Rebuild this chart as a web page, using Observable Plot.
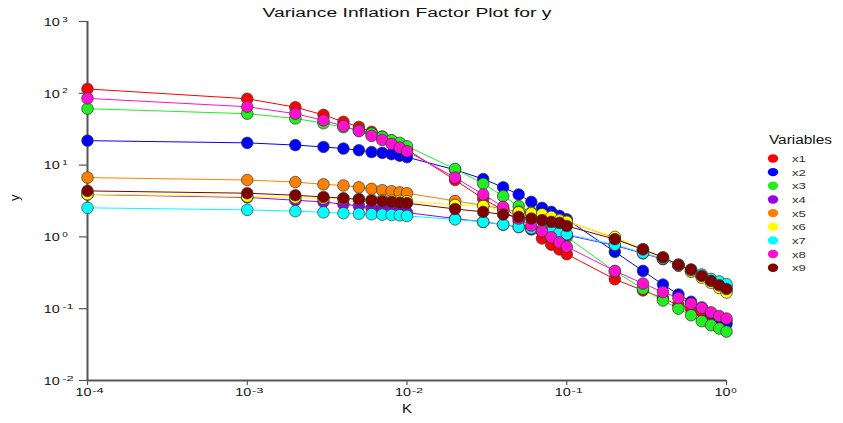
<!DOCTYPE html>
<html>
<head>
<meta charset="utf-8">
<script src="https://cdn.jsdelivr.net/npm/d3@7"></script>
<script src="https://cdn.jsdelivr.net/npm/@observablehq/plot@0.6"></script>
<style>
  html, body { margin: 0; padding: 0; background: #fff; }
  #wrap { position: relative; width: 843px; height: 423px; font-family: "Liberation Sans", Arial, sans-serif; }
  #legend { position: absolute; left: 0; top: 0; }
</style>
</head>
<body>
<div id="wrap"></div>
<script>
const K = [0.0001,0.001,0.002,0.003,0.004,0.005,0.006,0.007,0.008,0.009,0.01,0.02,0.03,0.04,0.05,0.06,0.07,0.08,0.09,0.1,0.2,0.3,0.4,0.5,0.6,0.7,0.8,0.9,1];
const x1 = [115,84,64,50,40,34,29,25,22,19,16.5,6.2,3.4,2.35,1.65,1.27,0.95,0.78,0.67,0.575,0.257,0.18,0.14,0.112,0.1,0.09,0.08,0.072,0.066];
const x2 = [21.9,20.4,19,17.9,17,16.1,15.2,14.8,14.2,13.5,12.9,8.6,6.4,4.9,3.9,3.07,2.54,2.23,1.96,1.76,0.62,0.336,0.217,0.158,0.125,0.104,0.086,0.073,0.061];
const x3 = [61,52,44.6,38.3,33.7,30.6,27.5,24.7,22.2,20.4,18.3,8.85,5.5,3.7,2.68,2.2,1.8,1.5,1.2,1.0,0.33,0.19,0.13,0.1,0.081,0.067,0.059,0.053,0.048];
const x4 = [3.9,3.55,3.24,3.07,2.85,2.7,2.53,2.45,2.38,2.28,2.18,1.8,1.62,1.48,1.37,1.3,1.2,1.13,1.1,1.06,0.76,0.59,0.49,0.4,0.34,0.29,0.25,0.225,0.2];
const x5 = [6.7,6.2,5.8,5.4,5.2,4.9,4.66,4.47,4.33,4.17,4.06,3.17,2.75,2.45,2.25,2.1,1.97,1.85,1.75,1.65,0.97,0.66,0.51,0.40,0.33,0.28,0.24,0.21,0.18];
const x6 = [3.93,3.65,3.52,3.44,3.38,3.33,3.28,3.24,3.2,3.17,3.14,2.78,2.7,2.28,2.2,2.13,2.07,1.9,1.7,1.62,1.0,0.67,0.5,0.4,0.33,0.27,0.23,0.195,0.168];
const x7 = [2.54,2.38,2.28,2.2,2.14,2.1,2.07,2.04,2.02,2.0,1.96,1.75,1.62,1.49,1.38,1.32,1.25,1.17,1.14,1.09,0.78,0.6,0.5,0.41,0.35,0.3,0.26,0.24,0.22];
const x8 = [85,65,52,42,35,29.7,25.5,22.4,19.7,17.5,15.6,6.7,3.9,2.62,1.8,1.44,1.2,0.99,0.84,0.73,0.336,0.224,0.171,0.141,0.118,0.103,0.089,0.079,0.073];
const x9 = [4.37,4.06,3.8,3.6,3.46,3.35,3.2,3.14,3.07,3.0,2.95,2.45,2.23,2.05,1.9,1.8,1.71,1.62,1.57,1.42,0.93,0.67,0.52,0.41,0.35,0.286,0.244,0.212,0.188];

const seriesNames = ["x1","x2","x3","x4","x5","x6","x7","x8","x9"];
const seriesValues = [x1,x2,x3,x4,x5,x6,x7,x8,x9];
const seriesColors = ["#FF0000","#0000FF","#22EE22","#9900EE","#FF8000","#FFFF00","#00FFFF","#FF10D0","#800000"];
const xTicks = [1e-4,1e-3,1e-2,1e-1,1];
const yTicks = [1e-2,1e-1,1,1e1,1e2,1e3];
const titleText = "Variance Inflation Factor Plot for y";
const xLabel = "K";
const yLabel = "y";
const legendTitle = "Variables";

const expOf = d => String(Math.round(Math.log10(d)));

const rows = [];
seriesNames.forEach((s, i) => K.forEach((k, j) => rows.push({K: k, v: seriesValues[i][j], s})));

const axisColor = "#555";
const chart = Plot.plot({
  width: 843,
  height: 423,
  marginLeft: 87,
  marginRight: 117,
  marginTop: 21,
  marginBottom: 43,
  style: {fontFamily: "'Liberation Sans', Arial, sans-serif", background: "#fff", overflow: "visible"},
  x: {type: "log", domain: [1e-4, 1], label: null},
  y: {type: "log", domain: [1e-2, 1e3], label: null},
  color: {domain: seriesNames, range: seriesColors},
  marks: [
    Plot.axisX({ticks: xTicks, tickFormat: () => "", tickSize: 5, stroke: axisColor, strokeWidth: 1.2, label: null}),
    Plot.axisY({ticks: yTicks, tickFormat: () => "", tickSize: 8, stroke: axisColor, strokeWidth: 1.2, label: null}),
    // power-of-ten tick labels: base and raised exponent
    Plot.text(xTicks, {x: d => d, frameAnchor: "bottom", text: () => "10", textAnchor: "start", dx: -12, dy: 15, fontSize: 10, fill: "#111"}),
    Plot.text(xTicks, {x: d => d, frameAnchor: "bottom", text: expOf, textAnchor: "start", dx: 4.7, dy: 12.8, fontSize: 6.5, fill: "#111"}),
    Plot.text(yTicks, {y: d => d, frameAnchor: "left", text: () => "10", textAnchor: "start", dx: -43.7, dy: 1, fontSize: 10, fill: "#111"}),
    Plot.text(yTicks, {y: d => d, frameAnchor: "left", text: expOf, textAnchor: "start", dx: -25.3, dy: -2, fontSize: 6.5, fill: "#111"}),
    Plot.ruleX([1e-4], {stroke: axisColor, strokeWidth: 2}),
    Plot.ruleY([1e-2], {stroke: axisColor, strokeWidth: 2}),
    Plot.line(rows, {x: "K", y: "v", z: "s", stroke: "s", strokeWidth: 1}),
    Plot.dot(rows, {x: "K", y: "v", fill: "s", stroke: "#333", strokeWidth: 0.7, r: 5.8}),
    Plot.text([titleText], {frameAnchor: "top", dy: -13, fontSize: 12, fill: "#111"}),
    Plot.text([xLabel], {frameAnchor: "bottom", dy: 32, fontSize: 12.5, fill: "#111"}),
    Plot.text([yLabel], {frameAnchor: "left", dx: -73, rotate: -90, fontSize: 13, fill: "#111"})
  ]
});
document.getElementById("wrap").appendChild(chart);

// Widen lettering like the reference (stretched glyphs)
chart.querySelectorAll("text").forEach(el => {
  const s = el.textContent;
  let len = null;
  if (s === titleText) len = 289;
  else if (s === "10") len = 16;
  else if (/^-\d$/.test(s)) len = 11.5;
  else if (/^\d$/.test(s)) len = 5.5;
  else if (s === xLabel) len = 10;
  if (len != null) {
    el.setAttribute("textLength", len);
    el.setAttribute("lengthAdjust", "spacingAndGlyphs");
  }
});

// Legend
const leg = d3.select("#wrap").append("svg")
  .attr("id", "legend").attr("width", 843).attr("height", 423)
  .style("font-family", "'Liberation Sans', Arial, sans-serif");
leg.append("text").attr("x", 769).attr("y", 144).attr("font-size", 12.5).attr("fill", "#111")
  .attr("textLength", 63).attr("lengthAdjust", "spacingAndGlyphs").text(legendTitle);
seriesNames.forEach((s, i) => {
  const cy = 158.5 + i * 13.65;
  leg.append("ellipse").attr("cx", 773).attr("cy", cy).attr("rx", 5.2).attr("ry", 4.2).attr("fill", seriesColors[i]);
  leg.append("text").attr("x", 792).attr("y", cy + 3.5).attr("font-size", 9.5).attr("fill", "#333")
    .attr("textLength", 14).attr("lengthAdjust", "spacingAndGlyphs").text(s);
});
</script>
</body>
</html>
